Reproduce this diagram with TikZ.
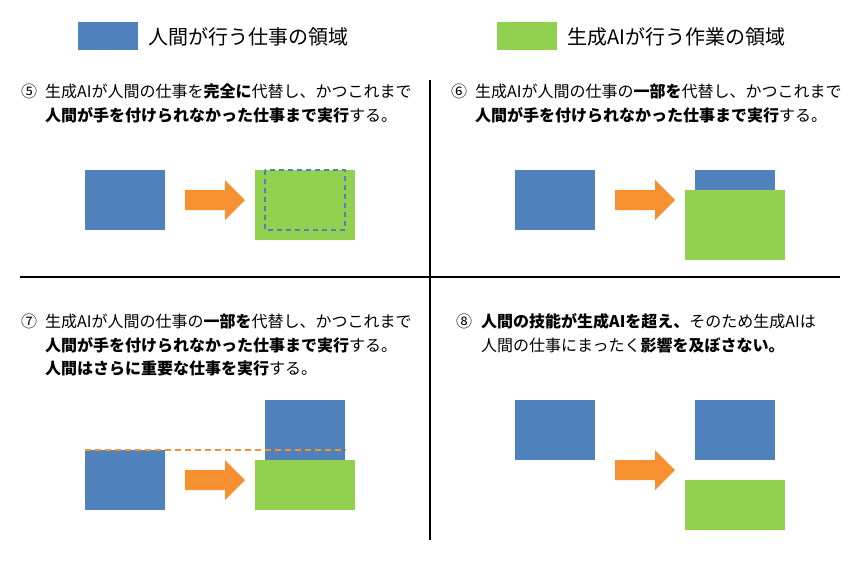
\documentclass[tikz,border=0pt]{standalone}
\usepackage{fontspec}
\setmainfont{Noto Sans CJK JP}
\definecolor{humanblue}{HTML}{4F81BD}
\definecolor{aigreen}{HTML}{92D050}
\definecolor{arroworange}{HTML}{F79031}
\tikzset{
  bluebox/.style={fill=humanblue, inner sep=0pt, minimum width=80pt, minimum height=60pt},
  greenbox/.style={fill=aigreen, inner sep=0pt, minimum width=100pt},
  caption/.style={anchor=west, inner sep=0pt, font=\fontsize{16}{18}\selectfont},
  legend/.style={anchor=west, inner sep=0pt, font=\fontsize{20}{22}\selectfont}
}
% orange block arrow, 60 long, centred at #1
\newcommand{\fatarrow}[1]{%
  \fill [arroworange, shift={#1}] (-30,-10) -- (10,-10) -- (10,-20) -- (30,0)
    -- (10,20) -- (10,10) -- (-30,10) -- cycle;}
\begin{document}
\begin{tikzpicture}[x=1pt, y=-1pt]
  \useasboundingbox (0,0) rectangle (860,560);
  % legend
  \node (lblue) [bluebox, minimum width=60pt, minimum height=28pt] at (108,36) {};
  \node (ltext) [legend] at (148,37) {人間が行う仕事の領域};
  \node (lgreen) [greenbox, minimum width=60pt, minimum height=28pt] at (527,36) {};
  \node (gtext) [legend] at (567,37) {生成AIが行う作業の領域};
  % dividers
  \draw [line width=1.2pt] (430,80) -- (430,540);
  \draw [line width=1.2pt] (20,277) -- (840,277);
  % (5)
  \node (n5) [caption] at (21,91) {⑤};
  \node (t5a) [caption] at (45,91) {生成AIが人間の仕事を\textbf{完全に}代替し、かつこれまで};
  \node (t5b) [caption] at (45,115) {\textbf{人間が手を付けられなかった仕事まで実行}する。};
  \node (h5) [bluebox] at (125,200) {};
  \fatarrow{(215,200)}
  \node (g5) [greenbox, minimum height=70pt] at (305,205) {};
  \draw [humanblue, line width=1.5pt, dash pattern=on 5pt off 4pt] (265,170) rectangle (345,230);
  % (6)
  \node (n6) [caption] at (451,91) {⑥};
  \node (t6a) [caption] at (475,91) {生成AIが人間の仕事の\textbf{一部を}代替し、かつこれまで};
  \node (t6b) [caption] at (475,115) {\textbf{人間が手を付けられなかった仕事まで実行}する。};
  \node (h6) [bluebox] at (555,200) {};
  \fatarrow{(645,200)}
  \node (k6) [bluebox] at (735,200) {};
  \node (g6) [greenbox, minimum height=70pt] at (735,225) {};
  % (7)
  \node (n7) [caption] at (21,321) {⑦};
  \node (t7a) [caption] at (45,321) {生成AIが人間の仕事の\textbf{一部を}代替し、かつこれまで};
  \node (t7b) [caption] at (45,345) {\textbf{人間が手を付けられなかった仕事まで実行}する。};
  \node (t7c) [caption] at (45,368) {\textbf{人間はさらに重要な仕事を実行}する。};
  \node (h7) [bluebox] at (125,480) {};
  \fatarrow{(215,480)}
  \node (k7) [bluebox] at (305,430) {};
  \node (g7) [greenbox, minimum height=50pt] at (305,485) {};
  \draw [arroworange, line width=1.5pt, dash pattern=on 6pt off 4pt] (h7.north west) -- (k7.east |- h7.north);
  % (8)
  \node (n8) [caption] at (456,321) {⑧};
  \node (t8a) [caption] at (481,321) {\textbf{人間の技能が生成AIを超え、}そのため生成AIは};
  \node (t8b) [caption] at (481,345) {人間の仕事にまったく\textbf{影響を及ぼさない。}};
  \node (h8) [bluebox] at (555,430) {};
  \fatarrow{(645,470)}
  \node (k8) [bluebox] at (735,430) {};
  \node (g8) [greenbox, minimum height=50pt] at (735,505) {};
\end{tikzpicture}
\end{document}
